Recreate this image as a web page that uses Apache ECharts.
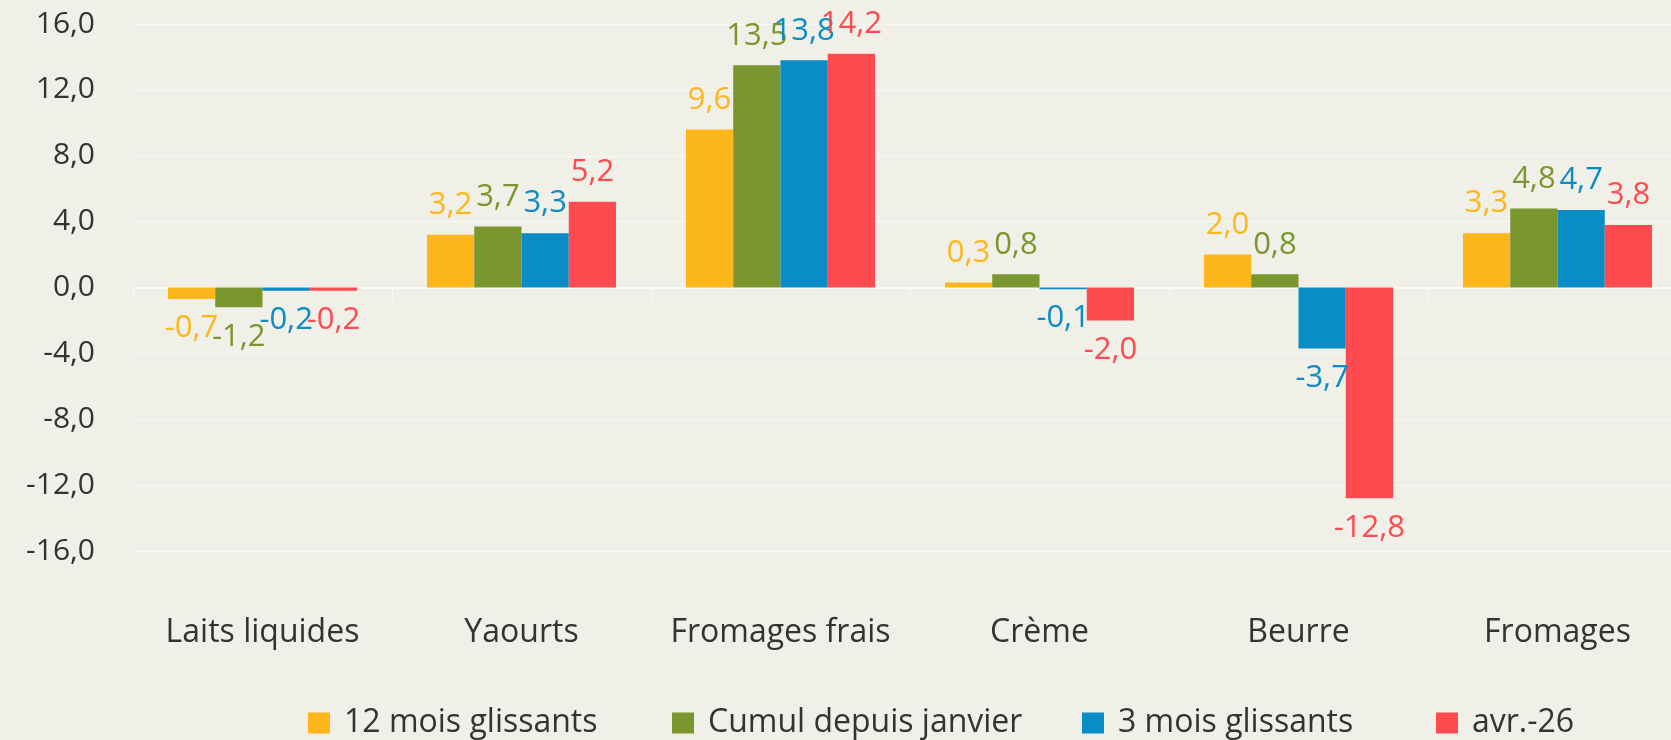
<!DOCTYPE html>
<html><head><meta charset="utf-8">
<script src="https://cdn.jsdelivr.net/npm/echarts@6/dist/echarts.min.js"></script>
<style>html,body{margin:0;padding:0;background:#f0f0e8;}#c{width:1671px;height:740px;}</style>
</head><body><div id="c"></div>
<script>
const categories = ['Laits liquides','Yaourts','Fromages frais','Crème','Beurre','Fromages'];
const seriesNames = ['12 mois glissants','Cumul depuis janvier','3 mois glissants','avr.-26'];
const s12mois = [-0.7, 3.2, 9.6, 0.3, 2.0, 3.3];
const sCumul = [-1.2, 3.7, 13.5, 0.8, 0.8, 4.8];
const s3mois = [-0.2, 3.3, 13.8, -0.1, -3.7, 4.7];
const sAvr = [-0.2, 5.2, 14.2, -2.0, -12.8, 3.8];
const colors = ['#fdb71a','#7a962e','#0a8dc4','#ff4b4f'];
const legendLeft = [303, 667, 1077, 1431];
const FONT = 'Open Sans';
const FW = 400;
const FS = 31;
const fmt = v => v.toFixed(1).replace('.', ',');
const allData = [s12mois, sCumul, s3mois, sAvr];
const chart = echarts.init(document.getElementById('c'));
chart.setOption({
  backgroundColor: '#f0f0e8',
  animation: false,
  textStyle: {fontFamily: FONT, fontWeight: FW},
  grid: {left: 133, right: -16, top: 24, bottom: 189, containLabel: false, outerBoundsMode: 'none'},
  legend: seriesNames.map((n, i) => ({
    left: legendLeft[i], top: 702, itemWidth: 22, itemHeight: 21,
    icon: 'rect',
    textStyle: {fontFamily: FONT, fontWeight: FW, fontSize: 32, color: '#333', padding: [0, 0, 0, 9]},
    data: [n]
  })),
  xAxis: {
    type: 'category', data: categories,
    axisLine: {lineStyle: {color: '#fbfbf6', width: 2}},
    axisTick: {show: true, length: 12, lineStyle: {color: '#fbfbf6', width: 1}},
    axisLabel: {show: false}
  },
  yAxis: {
    type: 'value', min: -16, max: 16, interval: 4,
    axisLabel: {formatter: v => fmt(v), fontFamily: FONT, fontWeight: FW, fontSize: 30, color: '#333', margin: 38},
    splitLine: {lineStyle: {color: '#fafaf4', width: 1}},
    axisLine: {show: false}, axisTick: {show: false}
  },
  series: seriesNames.map((n, i) => ({
    name: n, type: 'bar', barGap: '0%', barCategoryGap: '27%',
    itemStyle: {color: colors[i]},
    data: allData[i].map(v => ({
      value: v,
      label: {show: true, position: v >= 0 ? 'top' : 'bottom', distance: 14,
        formatter: p => fmt(p.value), color: colors[i], fontFamily: FONT, fontWeight: FW, fontSize: FS}
    }))
  }))
});
chart.setOption({
  graphic: categories.map(c => ({
    type: 'text',
    x: chart.convertToPixel({xAxisIndex: 0}, c),
    y: 633,
    style: {text: c, fontFamily: FONT, fontWeight: FW, fontSize: 32, fill: '#333', align: 'center', verticalAlign: 'middle'}
  }))
});
</script></body></html>
